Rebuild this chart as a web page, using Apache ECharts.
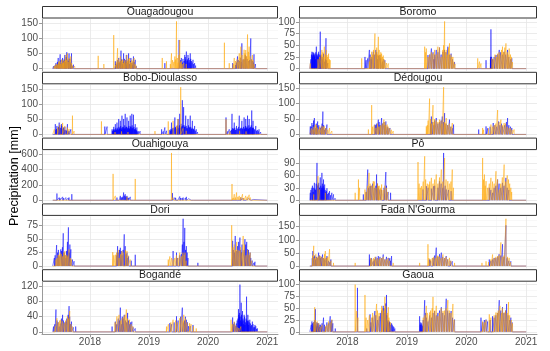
<!DOCTYPE html>
<html><head><meta charset="utf-8">
<script src="https://cdn.jsdelivr.net/npm/echarts@6/dist/echarts.min.js"></script>
<style>html,body{margin:0;padding:0;background:#fff}#c{width:550px;height:351px}</style>
</head><body><div id="c"></div>
<script>
// Days counted from 2017-01-01; values in mm. Blue and orange = the two precipitation sources.
const YEAR_TICKS = [365, 730, 1095, 1461];
const YEAR_LABELS = ['2018', '2019', '2020', '2021'];
const YEAR_MINOR = [181, 546, 911, 1277];
const DATA_START = 135, DATA_END = 1461;

const ouagaBlue = [[140,8],[148,10],[155,18],[169,35],[175,20],[181,47],[196,35],[202,25],[210,45],[222,54],[229,30],[236,50],[244,20],[251,50],[257,8],[263,13],
 [158,12],[164,22],[172,15],[186,28],[191,18],[205,30],[214,22],[218,38],[232,25],[240,32],[248,15],
 [522,24],[530,12],[543,35],[549,20],[557,59],[565,15],[573,50],[583,20],[590,45],[597,18],[604,50],[610,15],[618,35],[626,12],[634,40],[645,29],[652,8],
 [526,15],[535,28],[540,18],[553,25],[561,30],[569,22],[578,32],[586,28],[593,22],[601,30],[614,25],[622,18],[630,20],[638,22],
 [828,18],[916,94],[930,35],[936,20],[951,45],[957,30],[961,56],[966,25],[971,45],[978,20],[985,50],[992,25],[1002,29],[1012,18],[1018,10],
 [925,28],[940,32],[947,25],[954,38],[968,30],[975,35],[982,28],[988,32],[996,20],[1006,15],
 [1247,18],[1265,12],[1277,40],[1290,25],[1304,83],[1312,30],[1330,40],[1345,25],[1359,99],[1365,30],[1379,47],[1388,15],
 [1270,20],[1282,28],[1295,35],[1300,22],[1318,30],[1325,45],[1337,32],[1352,28],[1370,25],[1375,20]];
const ouagaOrange = [[134,5],[145,8],[161,15],[167,12],[175,25],[189,30],[195,18],[202,20],[216,45],[226,50],[236,35],[247,40],[257,10],[271,8],
 [150,10],[156,14],[171,20],[180,22],[185,15],[199,28],[206,25],[212,32],[220,28],[230,22],[241,30],[252,18],
 [416,42],[451,15],[512,110],[528,20],[536,67],[553,40],[563,29],[577,24],[594,45],[610,35],[624,29],[638,35],[650,10],
 [524,12],[540,30],[545,22],[558,25],[568,30],[572,18],[582,28],[588,20],[598,25],[603,32],[615,22],[620,18],[631,25],[644,15],
 [812,35],[838,24],[869,50],[890,40],[900,155],[910,20],[920,94],[930,24],[945,18],[960,15],
 [862,15],[876,28],[884,22],[895,30],[905,35],[915,45],[925,20],[935,15],
 [1196,85],[1226,18],[1257,35],[1288,50],[1298,72],[1318,62],[1328,61],[1339,112],[1349,72],[1369,45],[1380,15],
 [1250,15],[1265,25],[1275,30],[1280,22],[1293,38],[1305,45],[1312,30],[1323,50],[1334,40],[1344,55],[1355,40],[1362,30],[1374,28]];

const boboBlue = [[151,34],[155,15],[161,28],[168,20],[175,39],[182,22],[189,34],[196,18],[202,23],[210,25],[216,15],[226,34],[236,12],[247,17],
 [158,18],[171,25],[178,30],[185,20],[192,28],[199,20],[206,15],[220,12],[230,10],
 [457,26],[471,26],[502,17],[508,10],[512,25],[516,12],[522,34],[527,15],[532,39],[537,18],[543,51],[548,20],[553,45],[558,22],[563,62],[568,25],[573,51],[578,20],[583,68],[588,25],[594,56],[599,22],[604,45],[609,20],[614,62],[619,25],[624,68],[629,20],[634,65],[640,18],[645,34],[650,15],[655,23],[665,10],[675,11],
 [504,12],[510,15],[514,18],[519,14],[524,20],[530,16],[534,22],[540,15],[545,25],[550,18],[555,28],[560,16],[565,20],[571,24],[575,18],[580,30],[585,20],[591,25],[596,18],[601,22],[606,28],[611,18],[616,26],[621,20],[626,30],[631,22],[637,25],[642,15],[647,20],[652,12],[658,10],
 [808,17],[818,10],[828,23],[838,12],[859,15],[869,39],[875,20],[890,56],[895,22],[905,30],[910,51],[915,20],[920,68],[931,25],[936,113],[940,30],[944,90],[950,25],[957,62],[964,22],[971,51],[978,25],[985,62],[991,20],[998,45],[1005,18],[1012,28],[1022,17],[1030,8],
 [862,12],[866,18],[872,15],[880,22],[885,20],[893,25],[900,18],[908,26],[913,20],[918,30],[925,22],[928,35],[934,28],[947,30],[953,25],[960,28],[967,20],[974,30],[981,22],[988,25],[994,18],[1001,20],[1008,15],[1016,12],
 [1206,56],[1215,10],[1226,17],[1235,12],[1243,68],[1250,20],[1257,39],[1263,15],[1271,28],[1280,18],[1288,62],[1296,20],[1304,45],[1310,18],[1318,56],[1323,22],[1328,51],[1334,20],[1339,62],[1344,18],[1349,51],[1355,20],[1365,79],[1370,22],[1373,45],[1380,18],[1390,28],[1400,15],[1410,17],[1420,8],
 [1240,15],[1246,20],[1253,18],[1260,22],[1267,15],[1275,20],[1284,25],[1292,18],[1300,22],[1307,20],[1314,25],[1320,18],[1326,28],[1331,22],[1336,26],[1342,20],[1347,30],[1352,22],[1358,25],[1362,30],[1368,20],[1376,22],[1384,15],[1394,12],[1405,10]];
const boboOrange = [[145,17],[165,23],[179,32],[196,38],[210,28],[226,23],[236,18],[257,62],[267,11],
 [436,43],[520,8],[560,10],[600,8],
 [767,11],[849,43],[879,45],[900,28],[910,51],[926,156],[940,20],[960,12],
 [1206,50],[1230,10],[1290,12],[1330,10]];

const ouahiBlue = [[161,88],[175,35],[185,20],[196,44],[206,25],[216,35],[226,20],[236,35],[245,15],[253,79],
 [165,20],[180,28],[190,25],[201,30],[211,22],[221,25],[231,28],[241,20],
 [532,35],[545,20],[553,57],[563,30],[573,101],[583,79],[590,40],[594,57],[604,30],[614,44],[625,20],[635,15],
 [540,25],[558,40],[568,45],[578,60],[587,50],[599,35],[609,25],[619,22],
 [875,93],[890,35],[900,20],[920,49],[930,25],[941,35],[951,20],[961,44],[975,20],[992,26],[1005,10],
 [885,25],[895,30],[910,25],[925,30],[935,28],[946,25],[956,30],[968,25],[982,20],
 [1257,22],[1280,15],[1298,35],[1320,20],[1339,22],[1355,15],[1369,13],
 [1265,15],[1290,25],[1305,20],[1312,28],[1330,18],[1345,20],[1362,12],[1375,10]];
const ouahiOrange = [[145,13],[185,22],[226,18],[267,13],[165,10],[205,15],[245,12],
 [508,344],[522,57],[594,44],[645,278],
 [869,617],[879,35],[900,15],
 [1243,212],[1257,79],[1271,101],[1288,57],[1308,79],[1328,57],[1349,71],[1365,25],
 [1250,30],[1264,35],[1280,45],[1296,40],[1316,30],[1338,45],[1356,35]];

const doriBlue = [[145,15],[159,39],[175,18],[185,31],[200,61],[206,25],[216,15],[226,45],[232,72],[247,31],[257,12],[267,9],
 [150,20],[165,25],[170,30],[190,28],[195,35],[211,20],[221,28],[237,25],[241,40],
 [530,20],[536,37],[553,34],[563,20],[577,59],[583,37],[594,25],[604,18],[620,10],[645,21],
 [540,25],[548,30],[558,28],[570,30],[588,22],[598,15],
 [879,28],[900,25],[920,20],[941,88],[951,71],[961,37],[971,15],[1032,6],
 [905,15],[930,22],[936,40],[946,45],[956,30],[966,25],
 [1247,47],[1263,56],[1277,37],[1292,53],[1300,25],[1328,40],[1339,31],[1350,20],[1359,15],[1379,6],
 [1252,30],[1258,25],[1270,28],[1284,45],[1296,30],[1305,40],[1318,30],[1323,50],[1334,45],[1345,30],[1355,25],[1368,10],[1385,8]];
const doriOrange = [[155,12],[169,21],[181,25],[196,18],[210,28],[222,21],[236,31],[251,12],
 [162,15],[175,20],[188,22],[203,25],[215,20],[228,18],[244,15],
 [506,26],[522,21],[545,15],[563,28],[594,28],[614,12],
 [512,20],[530,25],[540,30],[555,22],[570,25],[585,30],[600,20],
 [849,12],[859,18],[890,15],[910,15],[920,25],[947,21],[960,10],
 [870,15],[880,12],[900,20],[930,18],[940,25],[953,25],
 [1241,76],[1257,40],[1288,28],[1312,56],[1330,20],[1349,21],[1365,10],
 [1250,35],[1265,30],[1272,45],[1280,30],[1295,35],[1305,25],[1320,40],[1340,30],[1355,25]];

const bogaBlue = [[140,14],[155,59],[175,14],[196,45],[216,27],[236,68],[240,40],[251,27],[277,14],
 [148,20],[162,30],[168,25],[182,22],[190,35],[201,30],[210,25],[222,35],[230,45],[245,20],[262,12],
 [502,14],[522,27],[553,64],[560,20],[577,45],[598,50],[610,20],[624,27],[645,9],
 [530,20],[540,35],[547,30],[565,40],[570,35],[585,30],[592,25],[604,30],[615,25],[632,12],
 [859,23],[900,41],[936,64],[945,25],[961,32],[975,15],[1002,18],
 [870,20],[885,25],[910,30],[925,40],[950,30],[955,40],[968,25],[985,15],
 [1247,38],[1265,15],[1275,30],[1283,60],[1288,40],[1292,125],[1296,30],[1300,77],[1304,25],[1308,55],[1314,20],[1318,45],[1323,18],[1333,93],[1337,22],[1341,45],[1346,18],[1353,32],[1360,15],[1369,27],[1378,12],[1385,18],[1400,9],
 [1252,20],[1258,25],[1270,22],[1280,35],[1285,45],[1290,50],[1298,40],[1302,45],[1306,30],[1311,35],[1316,30],[1321,40],[1326,25],[1330,35],[1335,30],[1339,28],[1344,30],[1349,25],[1357,22],[1364,18],[1373,20],[1381,12],[1390,15],[1395,8]];
const bogaOrange = [[161,36],[185,32],[206,23],[226,41],[240,55],[257,14],
 [150,15],[170,25],[178,30],[195,28],[215,30],[232,35],[248,20],
 [532,41],[563,36],[590,59],[610,32],[630,15],
 [520,25],[545,45],[555,30],[575,40],[582,45],[598,35],[620,20],
 [838,14],[879,32],[920,36],[945,45],[981,23],[1022,9],
 [850,20],[865,25],[895,30],[905,25],[930,40],[940,30],[955,35],[965,25],[990,20],[1005,15],
 [1237,32],[1257,27],[1267,18],[1298,14],[1245,20],[1275,12],[1285,10]];

const boroBlue = [[148,36],[152,25],[156,30],[159,34],[165,28],[170,20],[175,47],[180,25],[189,36],[194,20],[199,79],[205,25],[219,32],[226,15],[234,65],[245,12],
 [142,20],[145,30],[150,28],[154,35],[161,30],[163,25],[167,32],[172,35],[178,30],[183,28],[186,32],[192,25],[196,30],[202,28],[210,20],[215,25],[230,20],[238,18],
 [473,25],[500,40],[510,20],[524,36],[540,40],[550,20],[565,29],[580,15],[595,18],
 [480,18],[490,22],[505,30],[515,25],[530,30],[545,35],[555,28],[570,22],[585,20],
 [859,29],[880,43],[895,20],[910,40],[930,45],[951,36],[981,47],[1001,32],[1022,14],
 [870,30],[890,35],[900,30],[920,35],[940,30],[960,40],[970,35],[990,30],[1010,20],
 [1215,18],[1242,20],[1245,84],[1249,25],[1276,29],[1296,40],[1326,36],[1347,40],[1373,22],
 [1243,25],[1247,22],[1255,20],[1265,25],[1285,30],[1305,35],[1315,30],[1335,30],[1355,25],[1365,20]];
const boroOrange = [[138,11],[209,40],[224,47],[240,29],[250,32],[260,18],
 [185,20],[195,25],[205,30],[215,35],[220,25],[230,30],[236,40],[245,25],[255,20],
 [423,4],[453,22],[514,36],[534,75],[555,68],[575,32],[590,20],[616,11],
 [500,15],[505,25],[520,30],[525,40],[540,35],[545,45],[550,30],[560,40],[565,30],[570,35],[580,25],[585,28],[595,15],[605,12],
 [839,47],[849,43],[890,32],[920,47],[940,25],[961,101],[971,40],[991,54],[1012,25],[1025,10],
 [845,35],[860,25],[870,30],[880,35],[900,40],[910,30],[930,45],[950,40],[955,50],[966,35],[980,30],[985,45],[1000,30],[1005,25],[1018,15],
 [1164,22],[1184,11],[1251,22],[1286,32],[1316,47],[1337,54],[1357,43],[1377,14],
 [1175,15],[1260,20],[1270,30],[1280,25],[1295,35],[1300,30],[1310,40],[1322,35],[1330,45],[1345,35],[1350,30],[1365,30],[1370,25]];

const dedoBlue = [[138,26],[148,37],[163,53],[170,20],[183,42],[199,21],[215,74],[225,15],[240,32],
 [143,25],[155,30],[158,45],[175,35],[178,28],[190,30],[205,25],[210,35],[220,30],[232,20],
 [534,32],[555,48],[575,53],[601,42],[626,21],
 [540,30],[545,35],[560,40],[565,30],[580,35],[590,40],[595,30],[610,25],[615,20],
 [880,58],[910,53],[947,58],[961,69],[991,48],[1016,32],
 [875,35],[885,40],[895,30],[900,45],[920,35],[930,40],[940,45],[955,40],[970,35],[980,30],[1000,25],[1010,20],
 [1170,16],[1215,26],[1259,37],[1292,42],[1316,26],[1347,53],[1373,21],
 [1225,20],[1240,25],[1270,30],[1280,25],[1300,30],[1310,35],[1330,30],[1340,40],[1355,30],[1365,25]];
const dedoOrange = [[154,16],[169,32],[189,16],[224,26],[256,21],[270,11],
 [145,20],[160,25],[175,30],[180,22],[195,25],[205,20],[210,28],[218,25],[235,20],[245,15],
 [439,5],[494,16],[514,95],[540,21],[565,26],[589,48],[609,32],[646,11],
 [520,25],[530,30],[550,35],[555,25],[570,30],[580,35],[595,40],[600,30],[615,25],[625,20],[635,15],
 [849,26],[869,116],[890,95],[930,48],[955,153],[971,53],[1008,37],
 [855,30],[860,45],[875,50],[880,35],[895,40],[900,50],[910,45],[920,40],[940,45],[945,35],[960,40],[965,35],[980,30],[990,35],[1000,25],
 [1194,21],[1245,32],[1286,79],[1306,48],[1326,37],[1357,21],[1387,16],
 [1200,15],[1230,20],[1255,25],[1265,30],[1275,35],[1295,40],[1315,30],[1335,35],[1345,25],[1365,20],[1375,15]];

const poBlue = [[138,18],[148,30],[155,20],[163,42],[170,25],[179,90],[183,35],[189,42],[195,30],[199,55],[204,25],[209,66],[214,30],[219,50],[226,38],[232,20],[240,29],[245,15],[256,22],[262,12],[270,18],[280,14],[290,5],
 [142,25],[151,35],[159,30],[166,28],[174,40],[186,38],[192,30],[202,35],[207,30],[212,40],[217,35],[222,30],[229,25],[236,22],[250,18],
 [463,14],[490,74],[504,34],[544,62],[565,26],[601,68],[630,18],
 [480,20],[495,30],[510,35],[520,40],[530,30],[540,35],[550,40],[555,30],[575,25],[590,30],[605,35],[615,20],
 [829,26],[849,34],[894,34],[930,46],[955,114],[971,26],[1001,22],
 [860,30],[880,28],[900,35],[920,30],[940,40],[950,30],[965,35],[985,25],
 [1235,30],[1255,18],[1286,50],[1316,42],[1337,54],
 [1245,25],[1265,30],[1275,35],[1295,40],[1305,30],[1325,35],[1345,30],[1355,25]];
const poOrange = [[159,14],[185,58],[195,26],[230,18],
 [413,18],[433,50],[473,26],[498,66],[524,46],[555,34],[575,38],[605,30],
 [440,30],[480,20],[490,35],[505,40],[515,35],[530,45],[540,30],[550,40],[560,35],[570,30],[585,25],[595,35],[612,20],
 [798,92],[819,34],[839,106],[865,38],[880,54],[910,62],[941,74],[961,102],[981,46],[1008,74],
 [805,40],[812,30],[830,45],[845,50],[855,40],[870,45],[890,40],[900,50],[920,40],[930,55],[950,45],[970,50],[990,40],[1000,45],[1015,30],
 [1194,102],[1205,62],[1215,46],[1245,54],[1276,70],[1296,26],[1326,86],[1353,50],[1367,30],
 [1200,50],[1210,35],[1225,30],[1235,40],[1255,45],[1265,40],[1285,50],[1305,40],[1315,55],[1335,45],[1345,60],[1360,40],[1372,20]];

const fadaBlue = [[154,57],[189,51],[213,44],[240,38],[264,25],
 [150,30],[160,35],[165,40],[170,25],[175,35],[182,30],[195,40],[200,30],[205,35],[220,30],[225,25],[235,30],[250,20],[258,15],
 [500,44],[524,18],[555,38],[585,44],[616,31],[636,38],
 [505,25],[512,30],[530,25],[540,35],[548,30],[565,35],[575,30],[595,25],[605,35],[625,30],[630,20],
 [869,25],[910,70],[941,51],[971,38],[1008,18],
 [875,20],[890,30],[900,40],[920,35],[930,45],[950,35],[960,30],[980,25],[995,20],
 [1235,25],[1265,31],[1316,83],[1337,155],[1367,18],
 [1245,20],[1255,25],[1275,30],[1285,35],[1295,45],[1305,40],[1325,35],[1345,30],[1355,20]];
const fadaOrange = [[159,77],[179,31],[199,38],[230,57],[256,64],[280,12],
 [152,40],[165,30],[172,45],[185,35],[192,40],[210,35],[218,30],[225,45],[238,30],[245,35],[265,20],
 [413,12],[508,31],[540,25],[565,31],[595,25],[646,12],
 [515,25],[525,30],[535,35],[550,30],[560,25],[575,30],[585,35],[605,25],[615,30],[625,20],
 [808,12],[859,83],[886,31],[920,38],[951,44],[991,31],[1022,12],
 [865,30],[875,25],[895,35],[905,30],[915,40],[930,35],[940,30],[960,30],[970,35],[980,25],[1000,20],
 [1190,12],[1215,18],[1255,44],[1286,38],[1306,90],[1337,180],[1357,31],
 [1230,15],[1245,25],[1265,30],[1275,35],[1295,40],[1315,35],[1325,40],[1347,35],[1365,15]];

const gaouaBlue = [[148,22],[155,12],[160,15],[169,48],[175,12],[182,18],[189,18],[195,10],[200,15],[205,12],[219,30],[230,10],[260,33],[276,18],[291,7],
 [144,15],[152,18],[158,20],[163,22],[166,25],[172,15],[178,20],[185,12],[192,15],[210,18],[225,15],[240,20],[250,18],[265,22],[270,25],
 [427,93],[484,7],[504,37],[534,44],[561,33],[585,55],[605,78],[612,22],[618,18],[622,22],[630,15],[636,18],[645,12],[656,7],
 [510,20],[520,30],[540,35],[550,25],[570,40],[575,45],[590,50],[595,40],[600,60],[608,35],[615,25],[625,20],[640,15],[650,10],
 [808,33],[812,15],[818,18],[825,12],[839,67],[859,22],[900,44],[941,52],[971,70],[1001,44],[1022,26],
 [815,20],[822,15],[830,25],[845,40],[850,30],[870,35],[880,30],[890,40],[910,35],[920,40],[930,45],[950,40],[960,35],[980,45],[990,40],[1010,30],
 [1184,30],[1215,26],[1255,33],[1296,67],[1316,52],[1341,59],[1367,30],
 [1195,20],[1205,25],[1225,22],[1240,25],[1265,30],[1275,35],[1285,40],[1305,45],[1325,40],[1335,45],[1350,35],[1360,25],[1375,20]];
const gaouaOrange = [[165,52],[199,11],[250,22],[270,26],
 [160,20],[170,25],[180,22],[190,18],[210,15],[230,12],[240,15],[260,20],
 [413,100],[423,44],[473,78],[514,30],[544,59],[575,55],[595,74],[616,52],
 [430,30],[480,30],[490,25],[500,35],[520,40],[530,35],[550,45],[560,40],[580,50],[590,45],[600,55],[610,40],[620,30],[630,20],
 [849,55],[869,41],[890,74],[920,33],[951,44],[981,67],[1012,59],
 [830,30],[840,35],[855,40],[875,45],[885,50],[900,45],[910,55],[930,40],[940,50],[960,45],[970,50],[990,45],[1000,40],[1020,25],
 [1194,22],[1235,37],[1276,41],[1300,55],[1326,41],[1353,63],[1377,18],
 [1205,20],[1215,25],[1245,30],[1265,35],[1285,40],[1290,45],[1310,40],[1315,50],[1335,45],[1345,40],[1360,35],[1370,25]];

const STATIONS = ['Ouagadougou','Bobo-Dioulasso','Ouahigouya','Dori','Bogandé','Boromo','Dédougou','Pô',"Fada N'Gourma",'Gaoua'];
const BLUE = [ouagaBlue, boboBlue, ouahiBlue, doriBlue, bogaBlue, boroBlue, dedoBlue, poBlue, fadaBlue, gaouaBlue];
const ORANGE = [ouagaOrange, boboOrange, ouahiOrange, doriOrange, bogaOrange, boroOrange, dedoOrange, poOrange, fadaOrange, gaouaOrange];
const Y_TICKS = [[0,50,100,150],[0,50,100,150],[0,200,400,600],[0,25,50,75],[0,40,80,120],
                 [0,25,50,75,100],[0,50,100,150],[0,30,60,90],[0,50,100,150],[0,25,50,75,100]];

// layout
const COLS = [{left:42, width:236}, {left:299, width:238}];
const ROW_TOP = [19, 84.8, 150.6, 216.4, 282.2];
const PH = 52;
const XMIN = DATA_START - 0.05*(DATA_END-DATA_START), XMAX = DATA_END + 0.05*(DATA_END-DATA_START);

function toLine(spikes){
  const m = new Map();
  spikes.forEach(([d,v]) => { m.set(d, Math.max(v, m.get(d)||0)); });
  const days = Array.from(m.keys()).sort((a,b)=>a-b);
  const out = [[DATA_START,0]];
  days.forEach(d => { out.push([d-1,0],[d,m.get(d)],[d+1,0]); });
  out.push([DATA_END,0]);
  return out;
}
function maxOf(arr){ return arr.reduce((mx,p)=>Math.max(mx,p[1]),0); }

const grids=[], xAxes=[], yAxes=[], series=[], graphics=[];
const AX = '#9a9a9a', MAJ = '#e6e6e6', MIN = '#f3f3f3', LBL = '#4d4d4d';
const FONT = 'Liberation Sans, Arial, sans-serif';

STATIONS.forEach((name, i) => {
  const col = Math.floor(i/5), row = i%5;
  const c = COLS[col], top = ROW_TOP[row];
  grids.push({left:c.left, top:top, width:c.width, height:PH, outerBoundsMode:'none', containLabel:false});
  const M = Math.max(maxOf(BLUE[i]), maxOf(ORANGE[i]));
  const ymin = -0.05*M, ymax = 1.05*M;
  const ticks = Y_TICKS[i];
  const step = ticks[1]-ticks[0];
  const minor = [];
  for (let k=0;k<ticks.length;k++){ const mv=ticks[k]+step/2; if (mv<ymax) minor.push(mv); }
  const bottom = row===4;
  xAxes.push({type:'value', gridIndex:i, min:XMIN, max:XMAX, position:'bottom',
    axisLine:{show:bottom, onZero:false, lineStyle:{color:AX, width:1}},
    axisTick:{show:bottom, customValues:YEAR_TICKS, length:3, lineStyle:{color:AX}},
    axisLabel:{show:bottom, customValues:YEAR_TICKS, margin:3, color:LBL, fontSize:10, fontFamily:FONT,
      formatter:(v)=>{ const k=YEAR_TICKS.indexOf(Math.round(v)); return k>=0?YEAR_LABELS[k]:''; }},
    splitLine:{show:true, lineStyle:{color:MAJ, width:0.8}}, z:1});
  xAxes.push({type:'value', gridIndex:i, min:XMIN, max:XMAX, position:'top',
    axisLine:{show:false}, axisTick:{show:false, customValues:YEAR_MINOR}, axisLabel:{show:false, customValues:YEAR_MINOR},
    splitLine:{show:true, lineStyle:{color:MIN, width:0.6}}, z:0});
  yAxes.push({type:'value', gridIndex:i, min:ymin, max:ymax, position:'left',
    axisLine:{show:true, onZero:false, lineStyle:{color:AX, width:1}},
    axisTick:{show:true, customValues:ticks, length:3, lineStyle:{color:AX}},
    axisLabel:{show:true, customValues:ticks, margin:4, color:LBL, fontSize:10, fontFamily:FONT},
    splitLine:{show:true, lineStyle:{color:MAJ, width:0.8}}, z:1});
  yAxes.push({type:'value', gridIndex:i, min:ymin, max:ymax, position:'right',
    axisLine:{show:false}, axisTick:{show:false, customValues:minor}, axisLabel:{show:false, customValues:minor},
    splitLine:{show:true, lineStyle:{color:MIN, width:0.6}}, z:0});

  const common = {type:'line', xAxisIndex:2*i, yAxisIndex:2*i, showSymbol:false, symbol:'none',
    silent:true, animation:false, sampling:null, clip:true};
  series.push(Object.assign({}, common, {name:'blue', data:toLine(BLUE[i]), lineStyle:{color:'rgba(0,0,255,0.5)', width:1}, z:2}));
  series.push(Object.assign({}, common, {name:'orange', data:toLine(ORANGE[i]), lineStyle:{color:'rgba(255,165,0,0.5)', width:1}, z:3}));

  graphics.push({type:'rect', shape:{x:c.left+0.5, y:top-12.5, width:c.width-1, height:11.5},
    style:{fill:'#fff', stroke:'#333', lineWidth:1}, z:10});
  graphics.push({type:'text', x:c.left + c.width/2, y:top-6.7,
    style:{text:name, fill:'#1a1a1a', fontSize:10.5, fontFamily:FONT, align:'center', verticalAlign:'middle'}, z:11});
});

graphics.push({type:'text', x:15, y:176, rotation:Math.PI/2,
  style:{text:'Precipitation [mm]', fill:'#000', fontSize:12.5, fontFamily:FONT, align:'center', verticalAlign:'middle'}, z:11});

const chart = echarts.init(document.getElementById('c'), null, {renderer:'canvas'});
chart.setOption({animation:false, backgroundColor:'#fff', grid:grids, xAxis:xAxes, yAxis:yAxes, series:series, graphic:graphics});
</script></body></html>
